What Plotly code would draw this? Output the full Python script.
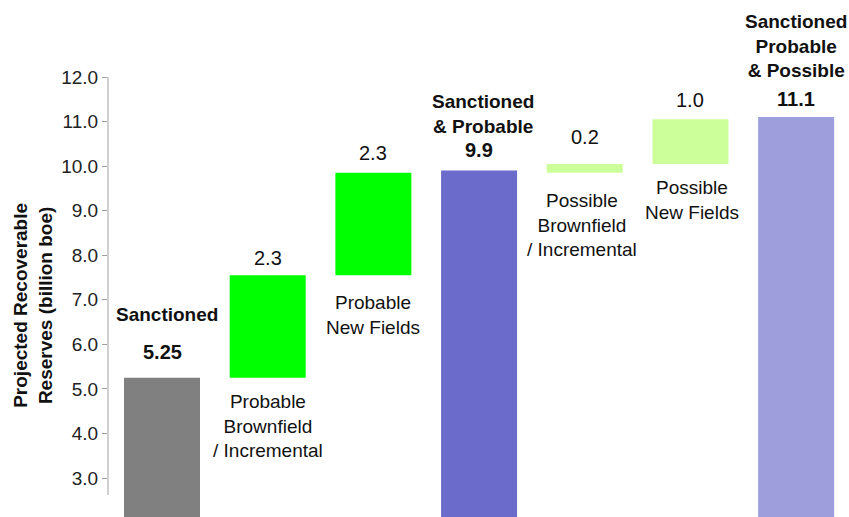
import plotly.graph_objects as go

# Waterfall of projected recoverable reserves (billion boe)
categories = ["Sanctioned", "Probable Brownfield / Incremental", "Probable New Fields",
              "Sanctioned & Probable", "Possible Brownfield / Incremental",
              "Possible New Fields", "Sanctioned Probable & Possible"]
values = [5.25, 2.3, 2.3, 9.9, 0.2, 1.0, 11.1]
is_total = [True, False, False, True, False, False, True]
value_text = ["5.25", "2.3", "2.3", "9.9", "0.2", "1.0", "11.1"]
name_lines = [["Sanctioned"],
              ["Probable", "Brownfield", "/ Incremental"],
              ["Probable", "New Fields"],
              ["Sanctioned", "& Probable"],
              ["Possible", "Brownfield", "/ Incremental"],
              ["Possible", "New Fields"],
              ["Sanctioned", "Probable", "& Possible"]]
colors = ["#808080", "#00FF00", "#00FF00", "#6B6BCC", "#CCFF99", "#CCFF99", "#9E9EDD"]
tick_vals = [3, 4, 5, 6, 7, 8, 9, 10, 11, 12]

# floating bases: increments stack on the running sum of the increments,
# totals are drawn from zero
bases = []
running = None
for v, tot in zip(values, is_total):
    if tot:
        bases.append(0.0)
        if running is None:
            running = v
    else:
        bases.append(running)
        running += v

FONT = "Liberation Sans, Arial, sans-serif"

fig = go.Figure(go.Bar(
    x=categories, y=values, base=bases,
    marker=dict(color=colors, line=dict(width=0)),
    hoverinfo="skip",
))

# label placement (pixel offsets from bar top / bar base)
value_shift = [26, 17, 20, 21, 27, 19, 18]
name_shift = [63, -48, -40, 57, -52, -36, 71]
name_xshift = [5, 0, 0, 4, -3, 2, 0]
name_above = [True, False, False, True, False, False, True]

ann = []
for i, cat in enumerate(categories):
    top = bases[i] + values[i]
    bold = is_total[i]
    vt = f"<b>{value_text[i]}</b>" if bold else value_text[i]
    ann.append(dict(x=cat, y=top, xref="x", yref="y", text=vt, showarrow=False,
                    yanchor="middle", yshift=value_shift[i],
                    font=dict(family=FONT, size=20, color="#111111")))
    nt = "<br>".join(f"<b>{l}</b>" if bold else l for l in name_lines[i])
    anchor_y = top if name_above[i] else bases[i]
    ann.append(dict(x=cat, y=anchor_y, xref="x", yref="y", text=nt, showarrow=False,
                    yanchor="middle", yshift=name_shift[i], xshift=name_xshift[i],
                    font=dict(family=FONT, size=19, color="#111111")))

# axis title
ann.append(dict(x=0, y=0.48, xref="paper", yref="paper", xshift=-75,
                xanchor="center", yanchor="middle",
                text="<b>Projected Recoverable<br>Reserves (billion boe)</b>",
                textangle=-90, showarrow=False,
                font=dict(family=FONT, size=19, color="#111111")))

fig.update_layout(
    width=849, height=517,
    margin=dict(l=108, r=0, t=77, b=0),
    paper_bgcolor="white", plot_bgcolor="white",
    bargap=0.281,
    showlegend=False,
    annotations=ann,
    xaxis=dict(showticklabels=False, showgrid=False, zeroline=False, showline=False,
               ticks="", range=[-0.511, 6.5]),
    yaxis=dict(range=[2.126, 12], tickvals=tick_vals, tickformat=".1f",
               showgrid=False, zeroline=False, showline=False,
               ticks="outside", ticklen=5, tickcolor="#A0A0A0", tickwidth=1,
               ticklabelstandoff=0,
               tickfont=dict(family=FONT, size=19, color="#222222")),
    shapes=[dict(type="line", xref="paper", yref="y", x0=0, x1=0, y0=2.62, y1=12,
                 line=dict(color="#A0A0A0", width=1))],
)

fig.write_html("out.html")
